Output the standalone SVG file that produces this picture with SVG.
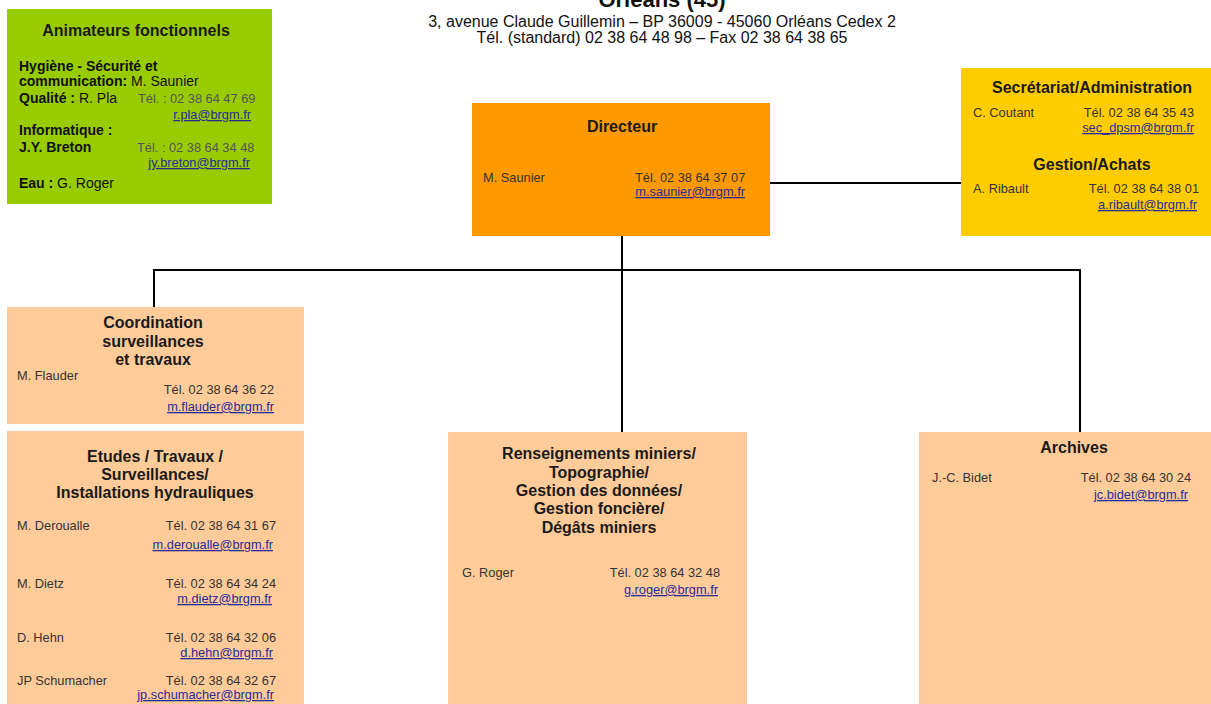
<svg xmlns="http://www.w3.org/2000/svg" width="1211" height="704" viewBox="0 0 1211 704">
<style>
text { font-family: "Liberation Sans", Arial, sans-serif; }
.hd { font-weight: bold; font-size: 16px; fill: #1a1a1a; text-anchor: middle; }
.t { font-size: 12.8px; fill: #333; }
.e { text-anchor: end; }
.lk { font-size: 12.8px; fill: #2a2a9a; text-decoration: underline; text-anchor: end; }
.g { font-size: 14px; fill: #111; }
.gb { font-weight: bold; }
.gt { font-size: 12.8px; fill: #555; }
.hdr { font-size: 16px; fill: #111; text-anchor: middle; }
.conn { stroke: #000; stroke-width: 2; fill: none; }
</style>
<rect width="1211" height="704" fill="#fff"/>
<g id="header">
<text x="662" y="7" class="hdr" style="font-size:22px;font-weight:bold">Orléans (45)</text>
<text x="662" y="27" class="hdr">3, avenue Claude Guillemin – BP 36009 - 45060 Orléans Cedex 2</text>
<text x="662" y="43" class="hdr">Tél. (standard) 02 38 64 48 98 – Fax 02 38 64 38 65</text>
</g>
<g id="connectors">
<line class="conn" x1="770" y1="183" x2="961" y2="183"/>
<line class="conn" x1="622" y1="236" x2="622" y2="432"/>
<line class="conn" x1="153" y1="270" x2="1081" y2="270"/>
<line class="conn" x1="154" y1="270" x2="154" y2="307"/>
<line class="conn" x1="1080" y1="270" x2="1080" y2="432"/>
</g>
<g id="animateurs">
<rect x="7" y="9" width="265" height="195" fill="#99cc00"/>
<text x="136" y="36" class="hd">Animateurs fonctionnels</text>
<text x="19" y="71" class="g gb">Hygiène - Sécurité et</text>
<text x="19" y="86" class="g"><tspan class="gb">communication:</tspan> M. Saunier</text>
<text x="19" y="103" class="g"><tspan class="gb">Qualité :</tspan> R. Pla</text>
<text x="138" y="103" class="gt">Tél. : 02 38 64 47 69</text>
<text x="251" y="119" class="lk">r.pla@brgm.fr</text>
<text x="19" y="135" class="g gb">Informatique :</text>
<text x="19" y="152" class="g gb">J.Y. Breton</text>
<text x="137" y="152" class="gt">Tél. : 02 38 64 34 48</text>
<text x="250" y="167" class="lk">jy.breton@brgm.fr</text>
<text x="19" y="188" class="g"><tspan class="gb">Eau :</tspan> G. Roger</text>
</g>
<g id="directeur">
<rect x="472" y="103" width="298" height="133" fill="#ff9900"/>
<text x="622" y="132" class="hd">Directeur</text>
<text x="483" y="182" class="t">M. Saunier</text>
<text x="635" y="182" class="t">Tél. 02 38 64 37 07</text>
<text x="745" y="196" class="lk">m.saunier@brgm.fr</text>
</g>
<g id="secretariat">
<rect x="961" y="68" width="250" height="168" fill="#ffcc00"/>
<text x="1092" y="93" class="hd">Secrétariat/Administration</text>
<text x="973" y="117" class="t">C. Coutant</text>
<text x="1194" y="117" class="t e">Tél. 02 38 64 35 43</text>
<text x="1194" y="132" class="lk">sec_dpsm@brgm.fr</text>
<text x="1092" y="170" class="hd">Gestion/Achats</text>
<text x="973" y="193" class="t">A. Ribault</text>
<text x="1199" y="193" class="t e">Tél. 02 38 64 38 01</text>
<text x="1197" y="209" class="lk">a.ribault@brgm.fr</text>
</g>
<g id="coordination">
<rect x="7" y="307" width="297" height="117" fill="#ffcc99"/>
<text x="153" y="328" class="hd">Coordination</text>
<text x="153" y="347" class="hd">surveillances</text>
<text x="153" y="365" class="hd">et  travaux</text>
<text x="17" y="380" class="t">M. Flauder</text>
<text x="274" y="394" class="t e">Tél. 02 38 64 36 22</text>
<text x="274" y="411" class="lk">m.flauder@brgm.fr</text>
</g>
<g id="etudes">
<rect x="7" y="431" width="297" height="273" fill="#ffcc99"/>
<text x="155" y="462" class="hd">Etudes / Travaux /</text>
<text x="155" y="480" class="hd">Surveillances/</text>
<text x="155" y="498" class="hd">Installations hydrauliques</text>
<text x="17" y="530" class="t">M. Deroualle</text>
<text x="276" y="530" class="t e">Tél. 02 38 64 31 67</text>
<text x="273" y="549" class="lk">m.deroualle@brgm.fr</text>
<text x="17" y="588" class="t">M. Dietz</text>
<text x="276" y="588" class="t e">Tél. 02 38 64 34 24</text>
<text x="272" y="603" class="lk">m.dietz@brgm.fr</text>
<text x="17" y="642" class="t">D. Hehn</text>
<text x="276" y="642" class="t e">Tél. 02 38 64 32 06</text>
<text x="273" y="657" class="lk">d.hehn@brgm.fr</text>
<text x="17" y="685" class="t">JP Schumacher</text>
<text x="276" y="685" class="t e">Tél. 02 38 64 32 67</text>
<text x="274" y="699" class="lk">jp.schumacher@brgm.fr</text>
</g>
<g id="renseignements">
<rect x="448" y="432" width="299" height="272" fill="#ffcc99"/>
<text x="599" y="459" class="hd">Renseignements miniers/</text>
<text x="599" y="478" class="hd">Topographie/</text>
<text x="599" y="496" class="hd">Gestion des données/</text>
<text x="599" y="514" class="hd">Gestion foncière/</text>
<text x="599" y="533" class="hd">Dégâts miniers</text>
<text x="462" y="577" class="t">G. Roger</text>
<text x="720" y="577" class="t e">Tél. 02 38 64 32 48</text>
<text x="718" y="594" class="lk">g.roger@brgm.fr</text>
</g>
<g id="archives">
<rect x="919" y="432" width="292" height="272" fill="#ffcc99"/>
<text x="1074" y="453" class="hd">Archives</text>
<text x="932" y="482" class="t">J.-C. Bidet</text>
<text x="1191" y="482" class="t e">Tél. 02 38 64 30 24</text>
<text x="1188" y="499" class="lk">jc.bidet@brgm.fr</text>
</g>
</svg>
